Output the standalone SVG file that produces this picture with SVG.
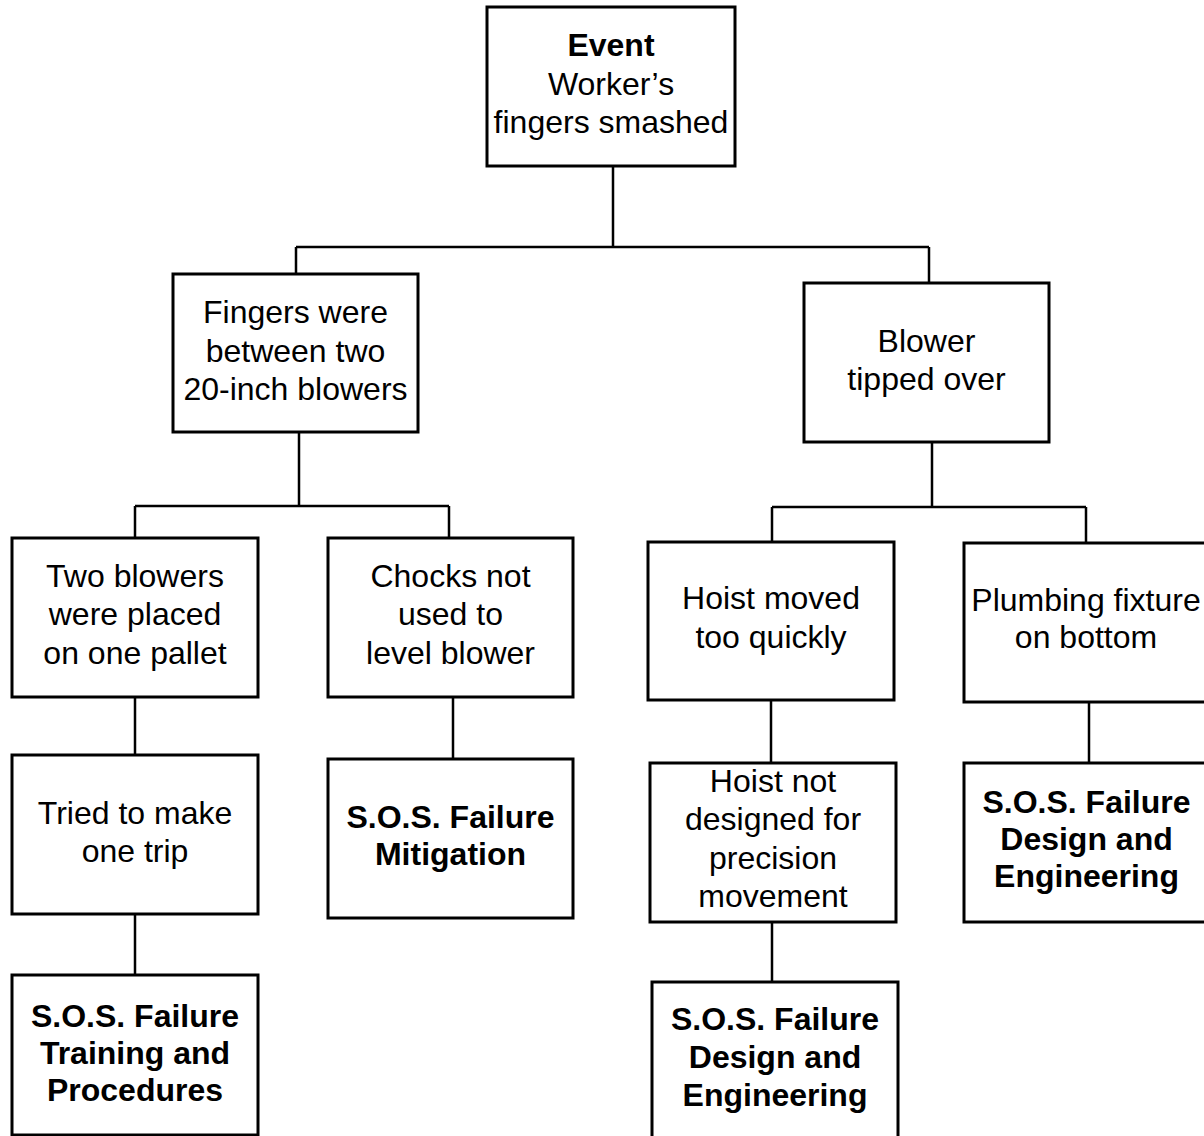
<svg xmlns="http://www.w3.org/2000/svg" width="1204" height="1136" viewBox="0 0 1204 1136">
<style>
.box{fill:#fff;stroke:#000;stroke-width:3}
.ln{fill:none;stroke:#000;stroke-width:2.5}
text{font-family:"Liberation Sans",Arial,sans-serif;font-size:32px;fill:#000;text-anchor:middle}
.b{font-weight:bold}
</style>
<rect width="1204" height="1136" fill="#fff"/>
<g id="connectors">
<path class="ln" d="M613 166V247M296 247H929M296 247V274M929 247V283"/>
<path class="ln" d="M299 432V506M135 506H449M135 506V538M449 506V538"/>
<path class="ln" d="M135 697V755M453 697V759M135 914V975"/>
<path class="ln" d="M932 442V507M772 507H1086M772 507V542M1086 507V543"/>
<path class="ln" d="M771 700V763M772 922V982M1089 702V763"/>
</g>
<g id="event">
<rect class="box" x="487" y="7" width="248" height="159"/>
<text x="611" y="56" class="b">Event</text>
<text x="611" y="95">Worker’s</text>
<text x="611" y="133">fingers smashed</text>
</g>
<g id="fingers">
<rect class="box" x="173" y="274" width="245" height="158"/>
<text x="295.5" y="323">Fingers were</text>
<text x="295.5" y="361.5">between two</text>
<text x="295.5" y="400">20-inch blowers</text>
</g>
<g id="blower">
<rect class="box" x="804" y="283" width="245" height="159"/>
<text x="926.5" y="352">Blower</text>
<text x="926.5" y="390">tipped over</text>
</g>
<g id="two-blowers">
<rect class="box" x="12" y="538" width="246" height="159"/>
<text x="135" y="587">Two blowers</text>
<text x="135" y="625">were placed</text>
<text x="135" y="664">on one pallet</text>
</g>
<g id="chocks">
<rect class="box" x="328" y="538" width="245" height="159"/>
<text x="450.5" y="587">Chocks not</text>
<text x="450.5" y="625">used to</text>
<text x="450.5" y="664">level blower</text>
</g>
<g id="tried">
<rect class="box" x="12" y="755" width="246" height="159"/>
<text x="135" y="824">Tried to make</text>
<text x="135" y="862">one trip</text>
</g>
<g id="mitigation">
<rect class="box" x="328" y="759" width="245" height="159"/>
<text x="450.5" y="828" class="b">S.O.S. Failure</text>
<text x="450.5" y="865" class="b">Mitigation</text>
</g>
<g id="training">
<rect class="box" x="12" y="975" width="246" height="160"/>
<text x="135" y="1027" class="b">S.O.S. Failure</text>
<text x="135" y="1064" class="b">Training and</text>
<text x="135" y="1101" class="b">Procedures</text>
</g>
<g id="hoist-moved">
<rect class="box" x="648" y="542" width="246" height="158"/>
<text x="771" y="609">Hoist moved</text>
<text x="771" y="647.5">too quickly</text>
</g>
<g id="plumbing">
<rect class="box" x="964" y="543" width="244" height="159"/>
<text x="1086" y="611">Plumbing fixture</text>
<text x="1086" y="648">on bottom</text>
</g>
<g id="hoist-not">
<rect class="box" x="650" y="763" width="246" height="159"/>
<text x="773" y="792">Hoist not</text>
<text x="773" y="830">designed for</text>
<text x="773" y="868.5">precision</text>
<text x="773" y="907">movement</text>
</g>
<g id="sos-design-1">
<rect class="box" x="652" y="982" width="246" height="170"/>
<text x="775" y="1030" class="b">S.O.S. Failure</text>
<text x="775" y="1068" class="b">Design and</text>
<text x="775" y="1106" class="b">Engineering</text>
</g>
<g id="sos-design-2">
<rect class="box" x="964" y="763" width="244" height="159"/>
<text x="1086.5" y="813" class="b">S.O.S. Failure</text>
<text x="1086.5" y="850" class="b">Design and</text>
<text x="1086.5" y="887" class="b">Engineering</text>
</g>
</svg>
